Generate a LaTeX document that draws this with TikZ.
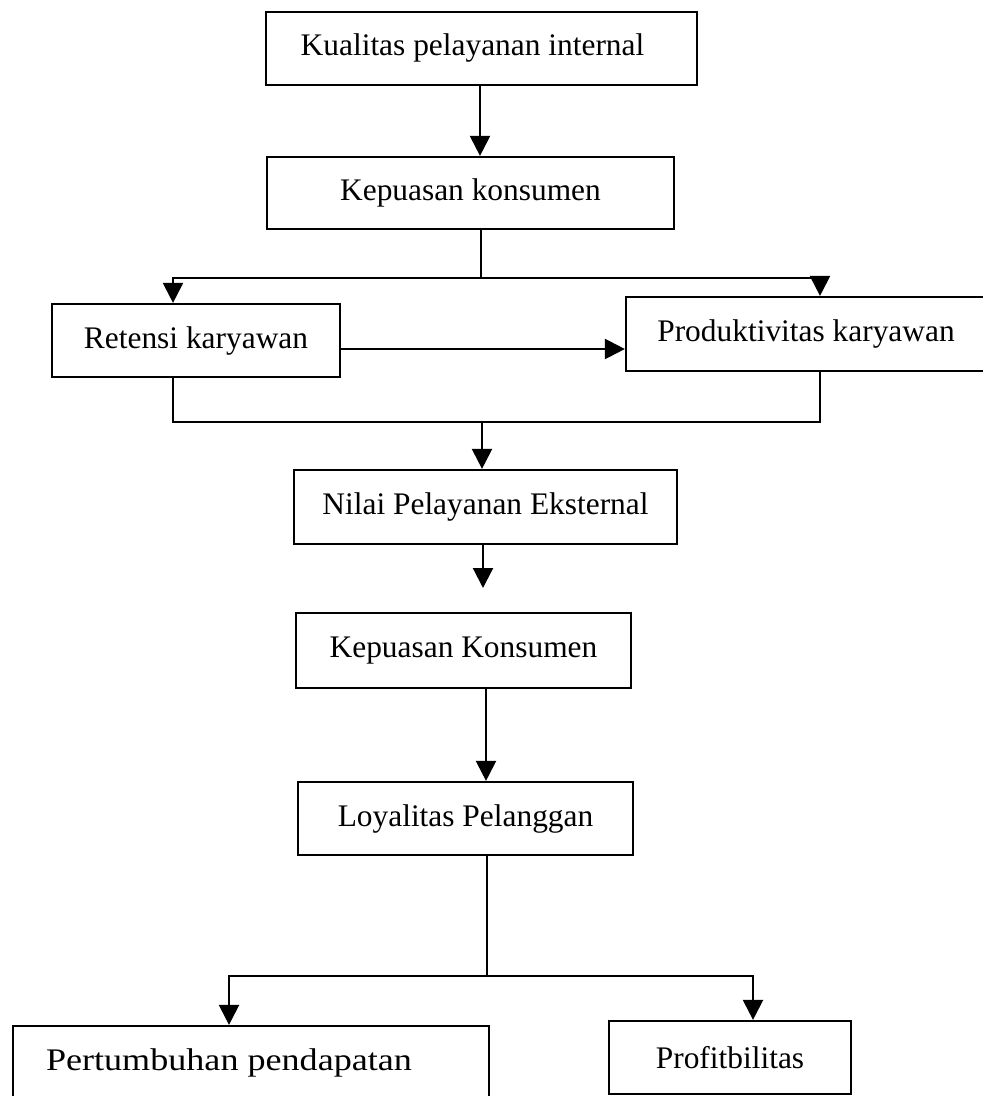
\documentclass[tikz,border=0pt]{standalone}
\usepackage{fontspec}
\setmainfont{Liberation Serif}
\newfontfamily\widefont[FakeStretch=1.15]{Liberation Serif}
\usetikzlibrary{arrows.meta}
\tikzset{
  box/.style={draw, line width=1.1pt, inner sep=0pt, align=center, font=\fontsize{15.7}{18}\selectfont},
  conn/.style={line width=1.1pt},
  arr/.style={line width=1.1pt, -{Triangle[width=10pt,length=10pt]}}
}
\begin{document}
\begin{tikzpicture}[x=0.5pt,y=-0.5pt]
\useasboundingbox (0,0) rectangle (982,1096);
% boxes
\node[box, minimum width=215.5pt, minimum height=36.5pt] (b1) at (481.5,48.5) {Kualitas pelayanan internal\hspace{9pt}};
\node[box, minimum width=203.5pt, minimum height=36pt] (b2) at (470.5,193) {Kepuasan konsumen};
\node[box, minimum width=144pt, minimum height=36.5pt] (b3) at (196,340.5) {Retensi karyawan};
\node[box, minimum width=180pt, minimum height=37pt] (b4) at (806,334) {Produktivitas karyawan};
\node[box, minimum width=191.5pt, minimum height=37pt] (b5) at (485.5,507) {Nilai Pelayanan Eksternal};
\node[box, minimum width=167.5pt, minimum height=37.5pt] (b6) at (463.5,650.5) {Kepuasan Konsumen};
\node[box, minimum width=167.5pt, minimum height=36.5pt] (b7) at (465.5,818.5) {Loyalitas Pelanggan};
\node[box, minimum width=238pt, minimum height=37pt] (b8) at (251,1063) {{\widefont Pertumbuhan pendapatan}\hspace{22pt}};
\node[box, minimum width=121pt, minimum height=36.5pt] (b9) at (730,1057.5) {Profitbilitas};
% junction coordinates
\coordinate (s1) at (480,0);
\coordinate (j1) at (481,278);
\coordinate (l1) at (173,278);
\coordinate (r1) at (820,278);
\coordinate (m1) at (0,349);
\coordinate (l2) at (173,422);
\coordinate (r2) at (820,422);
\coordinate (j2) at (482,422);
\coordinate (e1) at (483,588);
\coordinate (s6) at (486,0);
\coordinate (j3) at (487,976);
\coordinate (l3) at (229,976);
\coordinate (r3) at (753,976);
% connectors
\draw[arr] (b1.south -| s1) -- (b2.north -| s1);
\draw[conn] (b2.south -| j1) -- (j1);
\draw[arr] (j1) -- (l1) -- (b3.north -| l1);
\draw[arr] (j1) -- (r1) -- (b4.north -| r1);
\draw[arr] (b3.east |- m1) -- (b4.west |- m1);
\draw[conn] (b3.south -| l2) -- (l2) -- (r2) -- (b4.south -| r2);
\draw[arr] (j2) -- (b5.north -| j2);
\draw[arr] (b5.south -| e1) -- (e1);
\draw[arr] (b6.south -| s6) -- (b7.north -| s6);
\draw[conn] (b7.south -| j3) -- (j3);
\draw[arr] (j3) -- (l3) -- (b8.north -| l3);
\draw[arr] (j3) -- (r3) -- (b9.north -| r3);
\end{tikzpicture}
\end{document}
